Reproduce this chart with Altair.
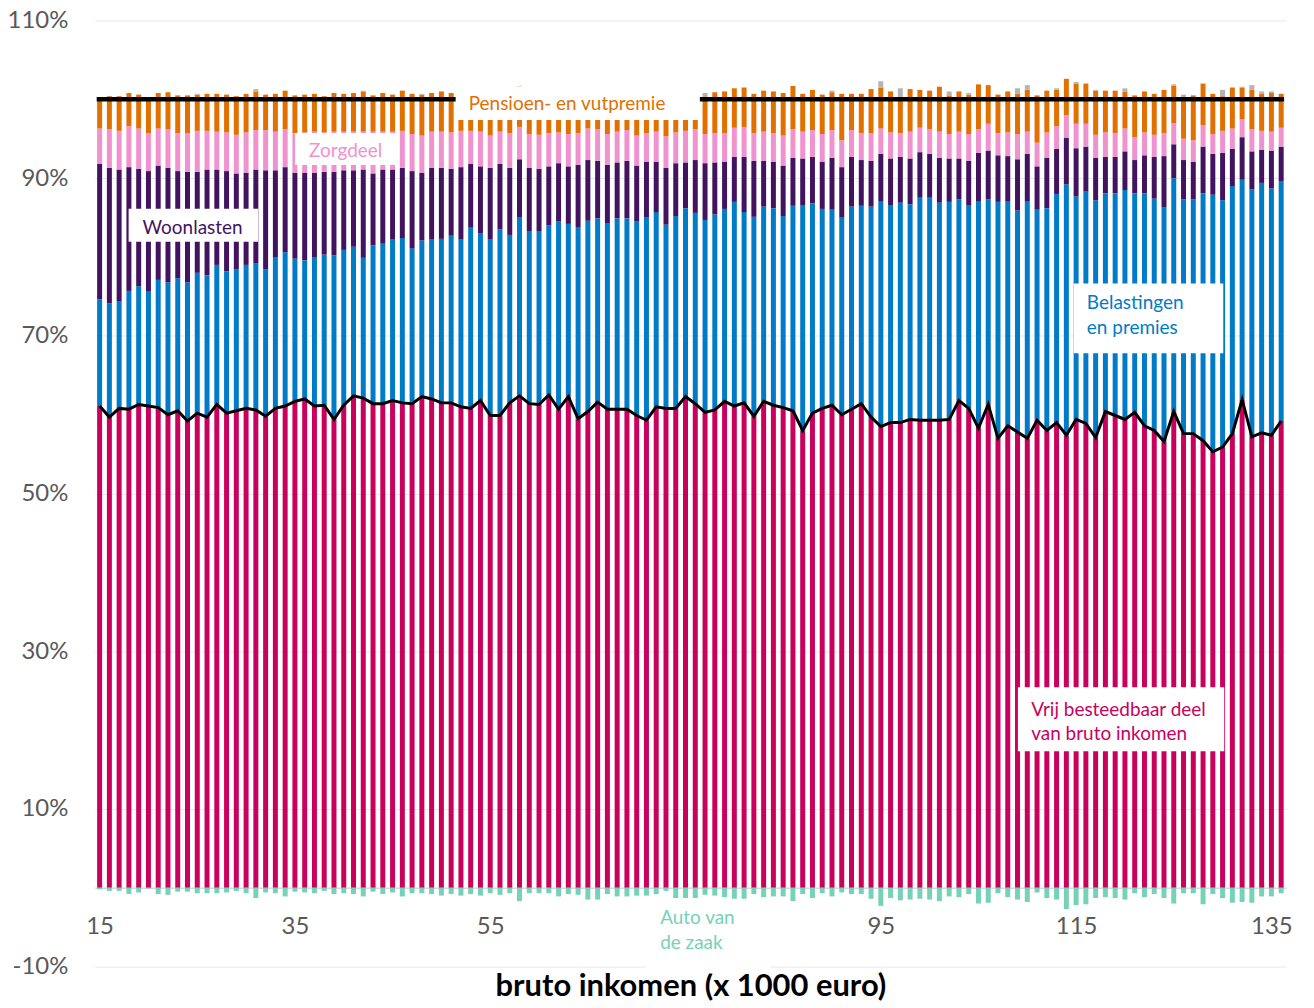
import altair as alt
import pandas as pd

# bruto inkomen (x 1000 euro): one bar per 1000 euro
inkomen = list(range(15, 137))

# top of "Vrij besteedbaar deel van bruto inkomen" (% of bruto inkomen)
vrij = [61.1, 59.7, 60.8, 60.7, 61.3, 61.1, 60.9, 60.0, 60.5, 59.2,
        60.2, 59.7, 61.3, 60.2, 60.5, 60.8, 60.6, 59.8, 60.8, 61.1,
        61.7, 62.0, 61.1, 61.2, 59.4, 61.2, 62.4, 62.1, 61.4, 61.4,
        61.8, 61.5, 61.4, 62.3, 62.0, 61.5, 61.5, 61.0, 60.8, 61.8,
        59.9, 59.9, 61.5, 62.4, 61.4, 61.3, 62.5, 60.7, 62.3, 59.5,
        60.4, 61.6, 60.7, 60.7, 60.7, 59.9, 59.3, 61.0, 60.8, 60.8,
        62.3, 61.4, 60.3, 60.6, 61.7, 61.1, 61.5, 59.8, 61.7, 61.2,
        60.9, 60.5, 58.0, 60.2, 60.8, 61.2, 60.0, 60.7, 61.4, 59.7,
        58.5, 59.0, 59.0, 59.4, 59.3, 59.3, 59.3, 59.4, 61.8, 60.8,
        58.3, 61.3, 57.0, 58.6, 57.8, 57.0, 59.3, 58.0, 59.0, 57.4,
        59.4, 58.9, 57.1, 60.4, 59.9, 59.4, 60.3, 58.6, 58.0, 56.6,
        60.4, 57.6, 57.6, 56.7, 55.3, 55.9, 57.6, 61.9, 57.2, 57.7,
        57.4, 59.2]

# cumulative top of "Belastingen en premies"
top_belasting = [74.6, 74.1, 74.4, 75.7, 76.3, 75.6, 77.1, 76.8, 77.3, 76.8,
                 78.0, 77.7, 79.0, 78.2, 78.4, 79.0, 79.2, 78.4, 80.0, 80.6,
                 79.8, 79.6, 80.0, 80.3, 80.2, 80.9, 81.3, 79.9, 81.5, 81.7,
                 82.2, 82.4, 81.1, 82.1, 82.2, 82.3, 82.7, 82.2, 83.8, 83.0,
                 82.2, 83.5, 82.8, 85.0, 83.3, 83.3, 84.0, 84.5, 84.2, 83.8,
                 84.6, 84.9, 84.3, 84.9, 84.9, 84.5, 85.0, 85.7, 84.1, 85.2,
                 86.2, 85.6, 84.7, 85.4, 86.1, 87.0, 85.7, 85.1, 86.4, 86.2,
                 85.2, 86.5, 86.6, 86.8, 86.1, 86.0, 85.0, 86.4, 86.5, 86.4,
                 87.1, 86.6, 86.9, 86.7, 87.6, 87.6, 86.9, 87.0, 87.3, 86.6,
                 87.1, 87.3, 87.0, 87.1, 85.9, 87.1, 86.0, 86.2, 88.0, 89.2,
                 87.7, 88.3, 87.2, 88.1, 88.1, 88.5, 88.1, 88.1, 87.4, 86.3,
                 90.0, 87.3, 87.3, 88.1, 87.9, 87.2, 89.0, 89.8, 88.6, 89.4,
                 88.7, 89.6]

# cumulative top of "Woonlasten"
top_woon = [91.8, 91.3, 91.1, 91.4, 91.2, 90.9, 91.6, 91.3, 90.9, 90.8,
            90.8, 91.1, 91.1, 90.9, 90.6, 90.7, 91.1, 91.0, 91.0, 91.4,
            90.7, 90.7, 90.7, 90.8, 90.8, 91.0, 91.0, 91.1, 90.6, 91.1,
            91.1, 91.3, 90.9, 90.7, 91.3, 91.3, 91.2, 91.4, 91.8, 91.5,
            91.3, 91.8, 91.3, 92.4, 91.3, 91.2, 91.5, 91.9, 91.5, 91.7,
            92.3, 92.2, 91.7, 92.0, 92.2, 91.6, 92.1, 92.1, 91.3, 91.9,
            92.0, 92.3, 91.9, 92.0, 92.1, 92.7, 92.7, 92.2, 92.2, 92.1,
            91.6, 92.6, 92.5, 92.7, 92.1, 92.6, 91.4, 92.7, 92.3, 92.2,
            93.1, 92.5, 92.7, 92.5, 93.3, 93.1, 92.6, 92.5, 92.5, 92.2,
            93.2, 93.5, 92.9, 92.8, 92.4, 93.1, 91.5, 92.6, 93.7, 95.1,
            93.8, 94.0, 92.6, 92.7, 92.7, 93.4, 92.3, 92.9, 92.7, 92.8,
            94.3, 92.3, 92.1, 94.0, 93.1, 93.2, 93.7, 95.2, 93.4, 93.6,
            93.5, 94.0]

# cumulative top of "Zorgdeel"
top_zorg = [96.3, 96.2, 96.0, 96.6, 96.3, 95.7, 96.3, 96.2, 95.7, 95.7,
            96.0, 96.0, 95.9, 95.8, 95.5, 95.8, 96.1, 96.1, 95.9, 96.2,
            95.7, 95.8, 95.9, 95.8, 95.9, 95.9, 95.9, 95.9, 95.9, 95.9,
            95.9, 96.0, 95.6, 95.4, 95.9, 95.9, 95.8, 96.0, 96.0, 95.9,
            95.4, 95.9, 95.7, 96.5, 95.6, 95.5, 95.7, 95.8, 95.6, 95.7,
            96.3, 96.2, 95.6, 95.9, 96.1, 95.4, 95.7, 95.9, 95.3, 95.8,
            96.0, 96.2, 95.6, 95.7, 95.7, 96.4, 96.5, 95.7, 95.9, 95.7,
            95.4, 96.2, 95.9, 96.1, 95.6, 96.1, 94.8, 96.1, 95.7, 95.7,
            96.3, 95.8, 95.7, 95.9, 96.4, 96.2, 95.9, 95.6, 95.9, 95.6,
            96.2, 96.9, 95.7, 95.8, 95.6, 95.9, 94.5, 95.8, 96.6, 98.0,
            96.9, 96.9, 95.5, 95.8, 95.7, 96.3, 95.2, 95.8, 95.5, 95.7,
            97.0, 95.0, 94.8, 96.7, 95.6, 96.0, 96.3, 97.5, 96.2, 96.0,
            95.9, 96.4]

# cumulative top of "Pensioen- en vutpremie"
top_pensioen = [100.2, 100.4, 100.4, 100.8, 100.6, 100.1, 100.8, 100.9, 100.5, 100.5,
                100.6, 100.7, 100.7, 100.6, 100.4, 100.7, 101.0, 100.6, 100.7, 101.1,
                100.5, 100.6, 100.7, 100.4, 100.8, 100.7, 100.8, 101.0, 100.5, 100.8,
                100.6, 101.1, 100.7, 100.6, 100.8, 101.0, 100.8, 101.0, 100.8, 101.0,
                100.7, 100.9, 100.7, 101.7, 100.7, 100.7, 100.7, 101.1, 100.8, 100.9,
                101.5, 101.5, 100.8, 101.1, 101.1, 101.0, 101.0, 100.8, 100.4, 101.3,
                101.3, 101.3, 100.3, 100.9, 101.0, 101.4, 101.5, 100.7, 101.1, 101.0,
                100.8, 101.7, 100.7, 101.2, 100.6, 100.9, 100.7, 100.7, 100.7, 101.3,
                101.5, 101.0, 100.3, 101.3, 101.2, 101.1, 101.6, 100.5, 101.0, 100.6,
                101.9, 101.8, 100.6, 101.0, 100.7, 101.2, 100.5, 101.1, 101.2, 102.6,
                102.0, 102.0, 101.1, 101.1, 101.1, 101.0, 100.5, 101.0, 100.7, 101.2,
                101.7, 100.3, 100.5, 102.0, 100.7, 100.4, 101.5, 101.5, 101.2, 100.7,
                100.8, 100.7]

# cumulative top of the small grey remainder
top_overig = [100.2, 100.4, 100.4, 100.8, 100.6, 100.1, 100.8, 100.9, 100.5, 100.5,
              100.7, 100.7, 100.7, 100.6, 100.4, 100.7, 101.3, 100.6, 100.7, 101.1,
              100.5, 100.6, 100.7, 100.4, 100.8, 100.7, 100.8, 101.1, 100.5, 100.8,
              100.6, 101.1, 100.7, 100.7, 100.8, 101.0, 100.8, 101.0, 100.8, 101.0,
              100.7, 100.9, 100.7, 101.7, 100.7, 100.7, 100.7, 101.1, 100.8, 100.9,
              101.5, 101.5, 100.8, 101.1, 101.1, 101.0, 101.0, 100.8, 100.4, 101.3,
              101.3, 101.3, 100.8, 100.9, 101.0, 101.4, 101.5, 100.7, 101.1, 101.0,
              100.8, 101.7, 100.7, 101.2, 100.6, 101.1, 100.7, 100.7, 100.7, 101.3,
              102.3, 101.0, 101.4, 101.3, 101.2, 101.1, 101.6, 101.0, 101.0, 100.8,
              101.9, 101.8, 100.6, 101.0, 101.4, 101.8, 100.5, 101.1, 101.4, 102.6,
              102.2, 102.0, 101.2, 101.1, 101.1, 101.4, 100.5, 101.0, 100.7, 101.2,
              101.9, 100.6, 100.5, 102.0, 100.7, 101.2, 101.5, 101.6, 101.8, 101.0,
              101.0, 100.7]

# "Auto van de zaak" (negative share)
auto = [-0.2, -0.4, -0.4, -0.8, -0.6, -0.1, -0.8, -0.9, -0.5, -0.5,
        -0.7, -0.7, -0.7, -0.6, -0.4, -0.7, -1.3, -0.6, -0.7, -1.1,
        -0.5, -0.6, -0.7, -0.4, -0.8, -0.7, -0.8, -1.1, -0.5, -0.8,
        -0.6, -1.1, -0.7, -0.7, -0.8, -1.0, -0.8, -1.0, -0.8, -1.0,
        -0.7, -0.9, -0.7, -1.7, -0.7, -0.7, -0.7, -1.1, -0.8, -0.9,
        -1.5, -1.5, -0.8, -1.1, -1.1, -1.0, -1.0, -0.8, -0.4, -1.3,
        -1.3, -1.3, -0.9, -1.0, -1.2, -1.4, -1.4, -0.8, -1.2, -1.1,
        -1.1, -1.7, -0.8, -1.3, -0.7, -1.1, -0.6, -0.8, -0.8, -1.4,
        -2.3, -1.3, -1.6, -1.5, -1.4, -1.5, -1.7, -1.1, -1.2, -0.8,
        -2.0, -1.9, -0.7, -1.2, -1.5, -1.8, -0.6, -1.3, -1.5, -2.7,
        -2.2, -2.1, -1.3, -1.2, -1.3, -1.5, -0.7, -1.2, -0.8, -1.3,
        -2.0, -0.7, -0.7, -2.1, -0.8, -1.3, -1.9, -1.8, -1.9, -1.1,
        -1.1, -0.7]

series = ["Vrij besteedbaar", "Belastingen en premies", "Woonlasten", "Zorgdeel",
          "Pensioen- en vutpremie", "Overig", "Auto van de zaak"]
series_colors = ["#CA005D", "#007BC7", "#42145F", "#F092CD", "#E17000", "#B4B4B4", "#76D2B6"]

reference_level = [100]
# the 75 label sits under the "Auto van de zaak" annotation in the original, so it is not shown
x_ticks = [15, 35, 55, 95, 115, 135]
y_ticks = [-10, 10, 30, 50, 70, 90, 110]

# annotation labels (one text block each, lines split by "\n") and white backgrounds, in data units
label_text = ["Pensioen- en vutpremie", "Zorgdeel", "Woonlasten", "Belastingen\nen premies",
              "Vrij besteedbaar deel\nvan bruto inkomen", "Auto van\nde zaak"]
label_x = [52.8, 36.45, 19.4, 116.1, 110.4, 72.4]
label_y = [99.4, 93.45, 83.7, 74.2, 22.6, -3.9]
label_color = ["#E17000", "#F092CD", "#42145F", "#007BC7", "#CA005D", "#76D2B6"]
box_x = [51.46, 35.02, 17.97, 114.75, 109.04, 70.96]
box_x2 = [76.47, 45.33, 31.24, 130.07, 130.17, 83.72]
box_y = [97.37, 91.68, 81.94, 67.78, 17.32, -10.87]
box_y2 = [101.67, 95.73, 86.12, 76.63, 25.42, -1.77]

rows = []
for i, x in enumerate(inkomen):
    levels = [0, vrij[i], top_belasting[i], top_woon[i], top_zorg[i], top_pensioen[i], top_overig[i]]
    for s in range(6):
        rows.append({"inkomen": x, "reeks": series[s], "lo": levels[s], "hi": levels[s + 1]})
    rows.append({"inkomen": x, "reeks": series[6], "lo": auto[i], "hi": 0})
df = pd.DataFrame(rows)
df_line = pd.DataFrame({"inkomen": inkomen, "vrij": vrij})
df_ref = pd.DataFrame({"lvl": reference_level, "x1": [14.7], "x2": [136.3]})
df_labels = pd.DataFrame({"x": label_x, "y": label_y, "t": label_text, "c": label_color})
df_boxes = pd.DataFrame({"x": box_x, "x2": box_x2, "y": box_y, "y2": box_y2})

FONT = "Lato"
xscale = alt.Scale(domain=[14.5, 136.5], nice=False, zero=False, padding=0)
yscale = alt.Scale(domain=[-10, 110], nice=False, zero=False)

x_axis = alt.Axis(values=x_ticks, title="bruto inkomen (x 1000 euro)", offset=-79,
                  ticks=False, grid=False, labelPadding=27, labelFont=FONT, labelFontSize=24,
                  labelColor="#595959", domainColor="#D9D9D9", domainWidth=1.5,
                  titleFont=FONT, titleFontSize=31, titleFontWeight="bold", titleColor="black",
                  titleBaseline="alphabetic", titleY=108, labelFlush=False)
y_axis = alt.Axis(values=y_ticks, labelExpr="datum.value + '%'", title=None, domain=False,
                  ticks=False, labelPadding=27, labelFont=FONT, labelFontSize=24,
                  labelColor="#595959", gridColor="#E8E8E8", gridWidth=1)

bars = alt.Chart(df).mark_bar(size=5).encode(
    x=alt.X("inkomen:Q", scale=xscale, axis=x_axis),
    y=alt.Y("lo:Q", scale=yscale, axis=y_axis),
    y2="hi:Q",
    color=alt.Color("reeks:N", scale=alt.Scale(domain=series, range=series_colors), legend=None),
)

line = alt.Chart(df_line).mark_line(color="black", strokeWidth=3).encode(
    x=alt.X("inkomen:Q", scale=xscale),
    y=alt.Y("vrij:Q", scale=yscale),
)

ref = alt.Chart(df_ref).mark_rule(color="black", strokeWidth=4.5).encode(
    x=alt.X("x1:Q", scale=xscale), x2="x2:Q",
    y=alt.Y("lvl:Q", scale=yscale),
)

boxes = alt.Chart(df_boxes).mark_rect(color="white").encode(
    x=alt.X("x:Q", scale=xscale), x2="x2:Q",
    y=alt.Y("y:Q", scale=yscale), y2="y2:Q",
)

labels = alt.Chart(df_labels).mark_text(align="left", baseline="middle", font=FONT, fontSize=19,
                                        lineBreak="\n", lineHeight=25).encode(
    x=alt.X("x:Q", scale=xscale),
    y=alt.Y("y:Q", scale=yscale),
    text="t:N",
    color=alt.Color("c:N", scale=None),
)

chart = alt.layer(bars, line, ref, boxes, labels).properties(
    width=1195, height=949,
    autosize=alt.AutoSizeParams(type="none"),
    padding={"left": 87, "top": 11, "right": 20, "bottom": 40},
).configure_view(stroke=None)

chart.save("out.html", embed_options={"renderer": "svg", "actions": False})
